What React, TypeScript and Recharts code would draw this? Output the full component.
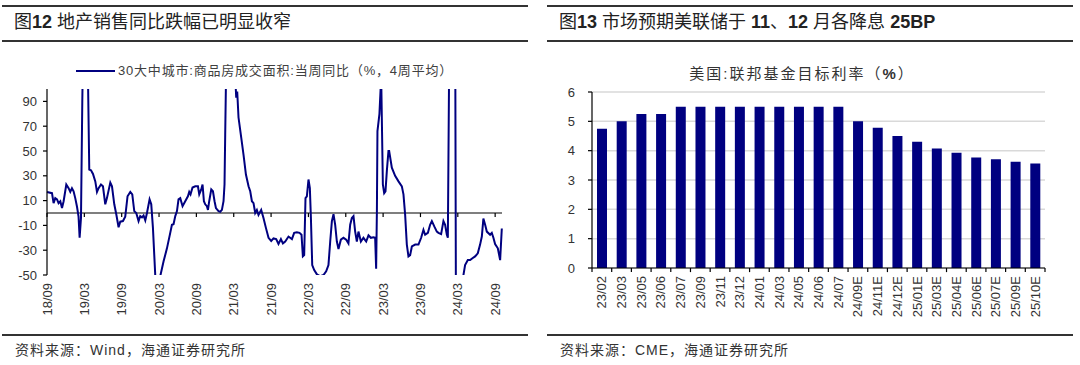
import { LineChart, Line, XAxis, YAxis, ReferenceLine, BarChart, Bar, CartesianGrid } from "recharts"

// 30大中城市:商品房成交面积:当周同比 (%, 4周平均), x = months since 2018/09
const salesMonth = [
  0, 0.8, 1.06, 1.33, 1.61, 1.86, 2.14, 2.41, 2.67, 3.1, 3.47, 3.74, 4.01, 4.27, 4.54, 4.82, 5.07, 5.24, 5.46, 5.67,
  5.99, 6.31, 6.58, 6.79, 7.07, 7.39, 7.76, 8.03, 8.29, 8.67, 8.99, 9.36, 9.63, 10.17, 10.44, 10.81, 11.13, 11.5,
  11.77, 12.2, 12.57, 12.94, 13.38, 13.7, 14.02, 14.34, 14.71, 14.98, 15.26, 15.51, 15.79, 16.06, 16.48, 16.75,
  17.02, 17.39, 17.8, 18.19, 18.73, 19.27, 19.8, 20.07, 20.33, 20.61, 20.88, 21.13, 21.41, 21.78, 22.21, 22.64,
  22.85, 23.06, 23.38, 23.82, 24.25, 24.46, 24.78, 24.99, 25.21, 25.42, 25.69, 25.86, 26.06, 26.39, 26.66, 26.92,
  27.14, 27.56, 27.83, 28.1, 28.36, 28.52, 28.63, 28.75, 29.1, 29.6, 30.24, 30.4, 30.56, 30.77, 31.2, 31.57, 31.96,
  32.38, 32.65, 32.92, 33.18, 33.45, 33.72, 33.98, 34.41, 34.78, 35.17, 35.59, 36.02, 36.39, 36.82, 37.19, 37.58,
  37.9, 38.27, 38.8, 39.35, 39.71, 40.15, 40.57, 40.89, 41.11, 41.32, 41.53, 41.75, 42.01, 42.23, 42.4, 42.61,
  42.93, 43.36, 43.89, 44.42, 44.85, 45.22, 45.5, 45.77, 46.03, 46.3, 46.57, 46.83, 47.21, 47.63, 48.07, 48.43,
  48.71, 48.98, 49.24, 49.51, 49.78, 50.04, 50.43, 50.84, 51.28, 51.65, 52.03, 52.45, 52.72, 52.88, 53.0, 53.09,
  53.41, 53.69, 53.96, 54.17, 54.38, 54.6, 54.86, 54.97, 55.4, 55.93, 56.47, 57.01, 57.27, 57.54, 57.81, 58.07,
  58.34, 58.62, 59.15, 59.68, 60.11, 60.48, 60.75, 61.19, 61.55, 61.83, 62.24, 62.63, 62.89, 63.32, 63.69, 63.96,
  64.24, 64.4, 64.61, 65.1, 65.58, 65.69, 66.22, 66.74, 67.17, 67.61, 67.98, 68.35, 68.78, 69.21, 69.58, 69.86,
  70.11, 70.39, 70.66, 71.19, 71.46, 71.72, 71.99, 72.43, 72.8, 73.07,
]
const salesYoY = [
  17, 16, 8, 12, 11, 8, 9.5, 4, 9.5, 23, 20, 17, 20, 17.5, 12, 5, -3, -20, -4, 90,
  200, 190, 110, 35, 34.5, 31.5, 25.5, 17, 20, 23, 21.5, 7, 12, 24.5, 21.5, 7, -1, -11.5,
  -7, -6.5, -3, 13.5, 17, 15, 1.5, 0, -6.5, -2.5, -3.5, -2, -6, 0, 11, 7,
  -12, -50, -68, -51, -39, -28.5, -16, -9.5, -9, -2.5, 1.5, 11, 12, 5.5, 9.5, 13.5,
  17, 15, 20.5, 21.5, 21.5, 15, 19, 23, 9.5, 7, 5.5, 2.5, 9.5, 19, 17.5, 9.5,
  4, 1.5, 1, 2.5, 9.5, 23, 63, 105, 260, 220, 110, 93, 98, 77, 61, 47, 31,
  21.5, 17.5, 9.5, 8, 0, 2.5, -1.5, 2.5, -4, -12, -20, -22.5, -20.5, -21, -25, -21,
  -24.5, -23, -19, -21, -16, -15.5, -16, -17.5, -35, -34, 12, 13.5, 27, 20, -4, -42,
  -46, -49.5, -51, -50, -47, -42, -23, -6.5, -1, -9.5, -23, -29, -21.5, -20, -21.5, -24.5,
  -9.5, -4, -2.5, -15, -23, -15, -23, -20, -23, -18, -20, -19.5, -20, -45, 1.5, 66,
  80, 110, 23, 16, 17.5, 34, 50, 50, 36.5, 30, 25.5, 21.5, 15, -1.5, -25.5, -35,
  -34, -27, -25.5, -25.5, -20, -13.5, -17.5, -16, -9.5, -6.5, -11, -15, -16, -17, -6.5, -9.5,
  -17.5, -20, 120, 280, 150, -60, -90, -55, -42, -38, -38, -36.5, -35, -32.5, -25.5, -19,
  -4.5, -9.5, -15, -17.5, -16, -20, -25, -28.5, -38, -12.5,
]
const salesTicks = [0, 6, 12, 18, 24, 30, 36, 42, 48, 54, 60, 66, 72]
const salesTickLabels = ["18/09", "19/03", "19/09", "20/03", "20/09", "21/03", "21/09", "22/03", "22/09", "23/03", "23/09", "24/03", "24/09"]
const salesYTicks = [-50, -30, -10, 10, 30, 50, 70, 90]

// 美国:联邦基金目标利率 (%)
const fedLabels = [
  "23/02", "23/03", "23/05", "23/06", "23/07", "23/09", "23/11", "23/12", "24/01", "24/03", "24/05", "24/06",
  "24/07", "24/09E", "24/11E", "24/12E", "25/01E", "25/03E", "25/04E", "25/06E", "25/07E", "25/09E", "25/10E",
]
const fedRate = [4.75, 5.0, 5.25, 5.25, 5.5, 5.5, 5.5, 5.5, 5.5, 5.5, 5.5, 5.5, 5.5, 5.0, 4.78, 4.5, 4.3, 4.07, 3.93, 3.77, 3.71, 3.62, 3.56]
const fedYTicks = [0, 1, 2, 3, 4, 5, 6]

const NAVY = "#000080"
const TEXT = "#333333"
const FONT = "'Liberation Sans', Arial, 'Noto Sans CJK SC', sans-serif"

const salesData = salesMonth.map((m, i) => ({ m, v: salesYoY[i] }))
const fedData = fedLabels.map((label, i) => ({ idx: i, label, rate: fedRate[i] }))

function RotatedTick(props: any) {
  const { x, y, payload, labels } = props
  const text = labels ? labels[payload.value] : payload.value
  return (
    <g transform={`translate(${x},${y})`}>
      <text transform="rotate(-90)" textAnchor="end" dy="0.35em" fontSize={13} fill={TEXT} fontFamily={FONT}>
        {text}
      </text>
    </g>
  )
}

function Panel({ left, title, source, children }: any) {
  return (
    <div style={{ position: "absolute", left, top: 0, width: 528, height: 365 }}>
      <div style={{ position: "absolute", left: 0, top: 5, width: 526, height: 2, background: "#333" }} />
      <div style={{ position: "absolute", left: 12, top: 9, height: 26, lineHeight: "26px", fontSize: 18, color: "#222", whiteSpace: "nowrap", fontFamily: FONT }}>
        {title}
      </div>
      <div style={{ position: "absolute", left: 0, top: 40, width: 526, height: 2, background: "#333" }} />
      {children}
      <div style={{ position: "absolute", left: 0, top: 334, width: 526, height: 2, background: "#333" }} />
      <div style={{ position: "absolute", left: 13, top: 340, lineHeight: "20px", fontSize: 14, color: TEXT, whiteSpace: "nowrap", fontFamily: FONT, letterSpacing: 1 }}>
        {source}
      </div>
    </div>
  )
}

export default function App() {
  return (
    <div style={{ position: "absolute", left: 0, top: 0, width: 1080, height: 365, background: "#fff", overflow: "hidden" }}>
      <Panel
        left={2}
        title={<>图<b>12</b> 地产销售同比跌幅已明显收窄</>}
        source="资料来源：Wind，海通证券研究所"
      >
        <div style={{ position: "absolute", left: 74, top: 62, display: "flex", alignItems: "center", whiteSpace: "nowrap" }}>
          <div style={{ width: 39, height: 2, background: NAVY }} />
          <span style={{ marginLeft: 3, fontSize: 13, color: "#404040", fontFamily: FONT, letterSpacing: 0.8, lineHeight: "18px" }}>
            30大中城市:商品房成交面积:当周同比（%，4周平均）
          </span>
        </div>
        <div style={{ position: "absolute", left: -2, top: 50 }}>
          <LineChart width={530} height={290} data={salesData} margin={{ top: 39, right: 28, bottom: 20, left: 7 }}>
            <XAxis
              dataKey="m"
              type="number"
              domain={[0, 73.1]}
              ticks={salesTicks}
              interval={0}
              axisLine={false}
              tickLine={false}
              height={45}
              tick={<RotatedTick labels={Object.fromEntries(salesTicks.map((t, i) => [t, salesTickLabels[i]]))} />}
            />
            <YAxis
              type="number"
              domain={[-50, 100]}
              ticks={salesYTicks}
              interval={0}
              allowDataOverflow
              width={40}
              axisLine={{ stroke: "#000", strokeWidth: 1.2 }}
              tickLine={{ stroke: "#000", strokeWidth: 1.2 }}
              tickSize={4}
              tickMargin={6}
              tick={{ fontSize: 13, fill: TEXT, fontFamily: FONT }}
            />
            <ReferenceLine y={0} stroke="#000" strokeWidth={1.2} />
            {salesTicks.map((t) => (
              <ReferenceLine key={t} segment={[{ x: t, y: 0 }, { x: t, y: -3.3 }]} stroke="#000" strokeWidth={1.2} />
            ))}
            <Line type="linear" dataKey="v" stroke={NAVY} strokeWidth={2} dot={false} isAnimationActive={false} />
          </LineChart>
        </div>
      </Panel>

      <Panel
        left={547}
        title={<>图<b>13</b> 市场预期美联储于 <b>11</b>、<b>12</b> 月各降息 <b>25BP</b></>}
        source="资料来源：CME，海通证券研究所"
      >
        <div style={{ position: "absolute", left: 0, top: 64, width: 510, textAlign: "center", fontSize: 15, color: TEXT, fontFamily: FONT, letterSpacing: 2, lineHeight: "20px" }}>
          美国:联邦基金目标利率（<b>%</b>）
        </div>
        <div style={{ position: "absolute", left: -7, top: 50 }}>
          <BarChart width={540} height={290} data={fedData} margin={{ top: 42, right: 35, bottom: 22, left: 12 }}>
            <CartesianGrid vertical={false} stroke="#d9d9d9" strokeWidth={1.5} />
            <XAxis
              dataKey="idx"
              type="number"
              domain={[-0.5, 22.5]}
              ticks={fedData.map((d) => d.idx)}
              interval={0}
              axisLine={{ stroke: "#000", strokeWidth: 1.2 }}
              tickLine={false}
              height={50}
              tick={<RotatedTick labels={fedLabels} />}
            />
            <YAxis
              type="number"
              domain={[0, 6]}
              ticks={fedYTicks}
              interval={0}
              width={40}
              axisLine={{ stroke: "#000", strokeWidth: 1.2 }}
              tickLine={{ stroke: "#000", strokeWidth: 1.2 }}
              tickSize={4}
              tickMargin={13}
              tick={{ fontSize: 13, fill: TEXT, fontFamily: FONT }}
            />
            {fedLabels.concat([""]).map((_, i) => (
              <ReferenceLine
                key={i}
                segment={[{ x: i - 0.5, y: 0 }, { x: i - 0.5, y: -0.14 }]}
                stroke="#000"
                strokeWidth={1.2}
                ifOverflow="visible"
              />
            ))}
            <Bar dataKey="rate" fill={NAVY} barSize={10} isAnimationActive={false} />
          </BarChart>
        </div>
      </Panel>
    </div>
  )
}
